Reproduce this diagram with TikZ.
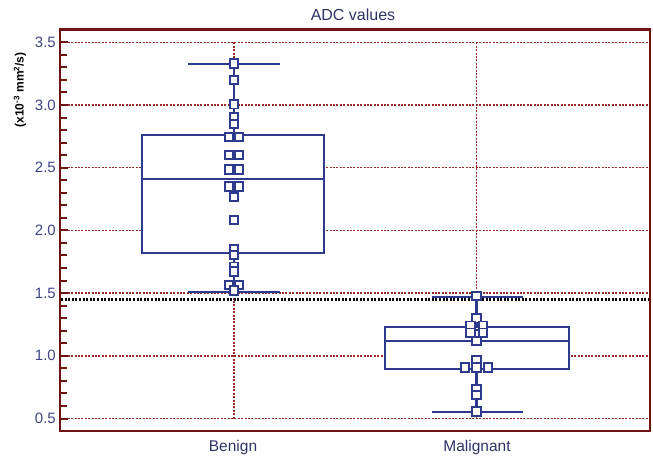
\documentclass[tikz,border=0pt]{standalone}
\usepackage{fontspec}
\setmainfont{Liberation Sans}
\definecolor{framec}{HTML}{6E1212}
\definecolor{gridc}{HTML}{9A2A2A}
\definecolor{boxc}{HTML}{2E3A8C}
\definecolor{txtc}{HTML}{2F3468}
\definecolor{tickc}{HTML}{3F4585}
\tikzset{
  gridline/.style={draw=gridc, line width=1.5pt, dash pattern=on 2pt off 1.4pt},
  thresh/.style={draw=black, line width=3pt, dash pattern=on 2pt off 1.6pt},
  framestyle/.style={draw=framec, line width=2.6pt},
  tickmark/.style={draw=framec, line width=2pt},
  boxstyle/.style={draw=boxc, fill=white, line width=2.3pt},
  whisk/.style={draw=boxc, line width=2.3pt},
  datapt/.style={rectangle, draw=boxc, fill=white, line width=1.7pt, minimum size=8.5pt, inner sep=0pt},
  ticklab/.style={text=tickc, font=\fontsize{15}{17}\selectfont, anchor=east, inner sep=0pt},
  catlab/.style={text=txtc, font=\fontsize{15.5}{18}\selectfont, inner sep=0pt},
}
\begin{document}
\begin{tikzpicture}[x=1pt,y=-1pt]
\useasboundingbox (0,0) rectangle (653,457);
\fill[white] (0,0) rectangle (653,457);
\node[catlab, font=\fontsize{16}{18}\selectfont] (title) at (353,15) {ADC values};
\node[rotate=90, inner sep=0pt, font=\bfseries\fontsize{12}{14}\selectfont] (ylab) at (20,90) {(x10\textsuperscript{-3} mm\textsuperscript{2}/s)};
\node[catlab] (benign) at (233,447) {Benign};
\node[catlab] (malig) at (477,447) {Malignant};
\begin{scope}[yshift=-481.2pt,y=125.4pt]
  % grid
  \foreach \v in {0.5,1,1.5,2,2.5,3,3.5} \draw[gridline] (61,\v) -- (649,\v);
  \draw[gridline] (234,0.5) -- (234,3.5);
  \draw[gridline] (476.5,0.5) -- (476.5,3.5);
  % threshold
  \draw[thresh] (61,1.4506) -- (649,1.4506);
  % ticks
  \foreach \i in {4,...,36} \draw[tickmark] (60,\i/10) -- ++(6.5,0);
  \foreach \v in {0.5,1,1.5,2,2.5,3,3.5} \draw[tickmark] (60,\v) -- ++(8,0);
  % frame
  \draw[framestyle] (60,0.4) rectangle (650,3.6);
  % tick labels
  \foreach \v/\t [count=\k] in {0.5/0.5,1/1.0,1.5/1.5,2/2.0,2.5/2.5,3/3.0,3.5/3.5}
    \node[ticklab] (ytick\k) at (56,\v) {\t};
  % Benign box plot
  \draw[whisk] (188,3.329) -- (280,3.329);
  \draw[whisk] (234,3.329) -- (234,2.761);
  \draw[whisk] (188,1.511) -- (280,1.511);
  \draw[whisk] (234,1.817) -- (234,1.511);
  \draw[boxstyle] (142,1.817) rectangle (324,2.761);
  \draw[whisk] (142,2.410) -- (324,2.410);
  % Malignant box plot
  \draw[whisk] (431.7,1.467) -- (523.3,1.467);
  \draw[whisk] (476.5,1.467) -- (476.5,1.227);
  \draw[whisk] (431.7,0.552) -- (523.3,0.552);
  \draw[whisk] (476.5,0.895) -- (476.5,0.552);
  \draw[boxstyle] (385,0.895) rectangle (569,1.227);
  \draw[whisk] (385,1.116) -- (569,1.116);
  % Benign points
  \foreach \x/\v [count=\k] in {234/3.331,234/3.199,234/3.006,234/2.904,234/2.849,
      229/2.745,239/2.745,229/2.601,239/2.601,229/2.486,239/2.486,229/2.350,239/2.350,
      234/2.266,234/2.083,234/1.852,234/1.804,234/1.711,234/1.672,
      229/1.565,239/1.565,234/1.521}
    \node[datapt] (b\k) at (\x,\v) {};
  % Malignant points
  \foreach \x/\v [count=\k] in {476.5/1.477,476.5/1.299,470.5/1.240,483/1.240,
      476.5/1.170,470.5/1.185,483/1.185,476.5/1.118,476.5/0.967,
      465/0.907,488/0.907,476.5/0.907,476.5/0.731,476.5/0.687,476.5/0.556}
    \node[datapt] (m\k) at (\x,\v) {};
\end{scope}
\end{tikzpicture}
\end{document}
